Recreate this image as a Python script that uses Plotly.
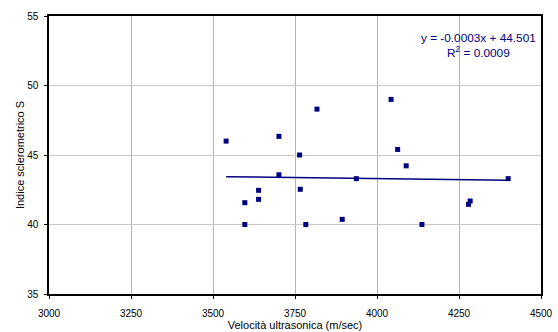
import plotly.graph_objects as go

velocita = [3540, 3597, 3597, 3639, 3639, 3701, 3701, 3764, 3766, 3783, 3817, 3894, 3937, 4043, 4063, 4089, 4137, 4279, 4284, 4400]
indice = [46.0, 41.57, 40.0, 42.46, 41.81, 46.34, 43.58, 45.0, 42.53, 40.0, 48.3, 40.37, 43.3, 49.0, 45.4, 44.22, 40.0, 41.45, 41.69, 43.3]
slope = -0.0003
intercept = 44.501
r2_text = "0.0009"
x_ticks = [3000, 3250, 3500, 3750, 4000, 4250, 4500]
y_ticks = [35, 40, 45, 50, 55]

navy = "#000080"
xmin, xmax = min(velocita), max(velocita)

fig = go.Figure()
fig.add_trace(go.Scatter(x=[xmin, xmax], y=[slope * xmin + intercept, slope * xmax + intercept],
                         mode="lines", line=dict(color=navy, width=1.5), showlegend=False))
fig.add_trace(go.Scatter(x=velocita, y=indice, mode="markers",
                         marker=dict(symbol="square", size=5, color=navy), showlegend=False))

fig.add_annotation(xref="paper", yref="paper", x=0.872, y=0.955, xanchor="center", yanchor="top",
                   text=f"y = {slope}x + {intercept}<br>R<sup>2</sup> = {r2_text}", showarrow=False,
                   align="center", font=dict(color=navy, size=11.8, family="Liberation Sans, Arial"))

fig.update_layout(
    width=558, height=332,
    margin=dict(l=49, r=17, t=16, b=38),
    paper_bgcolor="white", plot_bgcolor="white",
    font=dict(family="Liberation Sans, Arial", size=10, color="black"),
)
fig.update_xaxes(range=[3000, 4500], tickvals=x_ticks, showgrid=True, gridcolor="#b4b4b4", gridwidth=1,
                 showline=True, linecolor="black", linewidth=1.5, mirror=True,
                 ticks="outside", ticklen=3, tickcolor="black", zeroline=False,
                 ticklabelstandoff=6, automargin=False,
                 title=dict(text="Velocità ultrasonica (m/sec)", font=dict(size=11), standoff=4),
                 tickfont=dict(size=10))
fig.update_yaxes(range=[35, 55], tickvals=y_ticks, showgrid=True, gridcolor="#c8c8c8", gridwidth=1,
                 showline=True, linecolor="black", linewidth=1.5, mirror=True,
                 ticks="outside", ticklen=3, tickcolor="black", zeroline=False,
                 ticklabelstandoff=4, automargin=False,
                 title=dict(text="Indice sclerometrico S", font=dict(size=11), standoff=0),
                 tickfont=dict(size=10))

fig.write_html("out.html")
